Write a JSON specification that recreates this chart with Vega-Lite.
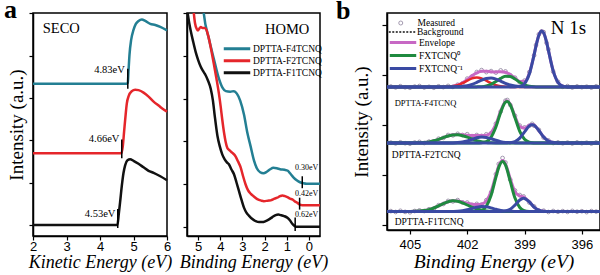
{
"$schema": "https://vega.github.io/schema/vega-lite/v6.json",
"background": "white",
"padding": {"left": 3, "top": -4, "right": 1, "bottom": 2},
"spacing": 6,
"resolve": {"scale": {"x": "independent", "y": "independent", "color": "independent", "shape": "independent", "strokeDash": "independent"}, "axis": {"x": "independent", "y": "independent"}, "legend": {"color": "independent", "shape": "independent", "strokeDash": "independent"}},
"datasets": {
"seco": [
{"s":"DPTTA-F4TCNQ","x":2,"y":153},{"s":"DPTTA-F4TCNQ","x":4.8,"y":153},{"s":"DPTTA-F4TCNQ","x":4.83,"y":154},{"s":"DPTTA-F4TCNQ","x":4.85,"y":165},{"s":"DPTTA-F4TCNQ","x":4.88,"y":182},{"s":"DPTTA-F4TCNQ","x":4.93,"y":197},{"s":"DPTTA-F4TCNQ","x":5.0,"y":207},{"s":"DPTTA-F4TCNQ","x":5.07,"y":213},{"s":"DPTTA-F4TCNQ","x":5.15,"y":216},{"s":"DPTTA-F4TCNQ","x":5.25,"y":217.5},{"s":"DPTTA-F4TCNQ","x":5.35,"y":216},{"s":"DPTTA-F4TCNQ","x":5.5,"y":213},{"s":"DPTTA-F4TCNQ","x":5.65,"y":212},{"s":"DPTTA-F4TCNQ","x":5.8,"y":210},{"s":"DPTTA-F4TCNQ","x":6,"y":206.5},
{"s":"DPTTA-F2TCNQ","x":2,"y":83},{"s":"DPTTA-F2TCNQ","x":4.64,"y":83},{"s":"DPTTA-F2TCNQ","x":4.68,"y":90},{"s":"DPTTA-F2TCNQ","x":4.72,"y":105},{"s":"DPTTA-F2TCNQ","x":4.76,"y":120},{"s":"DPTTA-F2TCNQ","x":4.8,"y":133},{"s":"DPTTA-F2TCNQ","x":4.86,"y":141},{"s":"DPTTA-F2TCNQ","x":4.95,"y":145.5},{"s":"DPTTA-F2TCNQ","x":5.05,"y":147},{"s":"DPTTA-F2TCNQ","x":5.15,"y":146.5},{"s":"DPTTA-F2TCNQ","x":5.3,"y":144},{"s":"DPTTA-F2TCNQ","x":5.45,"y":140},{"s":"DPTTA-F2TCNQ","x":5.6,"y":135},{"s":"DPTTA-F2TCNQ","x":5.75,"y":131},{"s":"DPTTA-F2TCNQ","x":5.9,"y":127},{"s":"DPTTA-F2TCNQ","x":6,"y":125},
{"s":"DPTTA-F1TCNQ","x":2,"y":11},{"s":"DPTTA-F1TCNQ","x":4.52,"y":11},{"s":"DPTTA-F1TCNQ","x":4.56,"y":22},{"s":"DPTTA-F1TCNQ","x":4.6,"y":34},{"s":"DPTTA-F1TCNQ","x":4.65,"y":50},{"s":"DPTTA-F1TCNQ","x":4.7,"y":63},{"s":"DPTTA-F1TCNQ","x":4.75,"y":71},{"s":"DPTTA-F1TCNQ","x":4.82,"y":76},{"s":"DPTTA-F1TCNQ","x":4.9,"y":77},{"s":"DPTTA-F1TCNQ","x":5.0,"y":75.5},{"s":"DPTTA-F1TCNQ","x":5.15,"y":72.5},{"s":"DPTTA-F1TCNQ","x":5.3,"y":69},{"s":"DPTTA-F1TCNQ","x":5.45,"y":65.5},{"s":"DPTTA-F1TCNQ","x":5.6,"y":63.5},{"s":"DPTTA-F1TCNQ","x":5.8,"y":60},{"s":"DPTTA-F1TCNQ","x":6,"y":56}
],
"secoMark": [{"x":4.83,"y":148,"y2":168},{"x":4.65,"y":78,"y2":97},{"x":4.53,"y":8,"y2":27}],
"secoLab": [{"x":4.74,"y":167,"t":"4.83eV"},{"x":4.58,"y":97,"t":"4.66eV"},{"x":4.46,"y":22,"t":"4.53eV"}],
"homo": [
{"s":"DPTTA-F4TCNQ","x":4.78,"y":232},{"s":"DPTTA-F4TCNQ","x":4.74,"y":223},{"s":"DPTTA-F4TCNQ","x":4.51,"y":198},{"s":"DPTTA-F4TCNQ","x":4.29,"y":178},{"s":"DPTTA-F4TCNQ","x":4.06,"y":158},{"s":"DPTTA-F4TCNQ","x":3.9,"y":149},{"s":"DPTTA-F4TCNQ","x":3.75,"y":145.5},{"s":"DPTTA-F4TCNQ","x":3.55,"y":145},{"s":"DPTTA-F4TCNQ","x":3.38,"y":145.5},{"s":"DPTTA-F4TCNQ","x":3.25,"y":143},{"s":"DPTTA-F4TCNQ","x":3.1,"y":136},{"s":"DPTTA-F4TCNQ","x":2.93,"y":122},{"s":"DPTTA-F4TCNQ","x":2.78,"y":104},{"s":"DPTTA-F4TCNQ","x":2.63,"y":90},{"s":"DPTTA-F4TCNQ","x":2.48,"y":76},{"s":"DPTTA-F4TCNQ","x":2.35,"y":68},{"s":"DPTTA-F4TCNQ","x":2.2,"y":64},{"s":"DPTTA-F4TCNQ","x":2.05,"y":63},{"s":"DPTTA-F4TCNQ","x":1.9,"y":64.5},{"s":"DPTTA-F4TCNQ","x":1.75,"y":67},{"s":"DPTTA-F4TCNQ","x":1.6,"y":68.5},{"s":"DPTTA-F4TCNQ","x":1.45,"y":68},{"s":"DPTTA-F4TCNQ","x":1.3,"y":67},{"s":"DPTTA-F4TCNQ","x":1.1,"y":66.5},{"s":"DPTTA-F4TCNQ","x":0.95,"y":65.5},{"s":"DPTTA-F4TCNQ","x":0.85,"y":63},{"s":"DPTTA-F4TCNQ","x":0.7,"y":59},{"s":"DPTTA-F4TCNQ","x":0.55,"y":56},{"s":"DPTTA-F4TCNQ","x":0.4,"y":54},{"s":"DPTTA-F4TCNQ","x":0.25,"y":53},{"s":"DPTTA-F4TCNQ","x":0.1,"y":52.5},{"s":"DPTTA-F4TCNQ","x":-0.5,"y":52.5},
{"s":"DPTTA-F2TCNQ","x":5.22,"y":230},{"s":"DPTTA-F2TCNQ","x":5.14,"y":214},{"s":"DPTTA-F2TCNQ","x":5.06,"y":208},{"s":"DPTTA-F2TCNQ","x":5.0,"y":206.5},{"s":"DPTTA-F2TCNQ","x":4.94,"y":208.5},{"s":"DPTTA-F2TCNQ","x":4.88,"y":210},{"s":"DPTTA-F2TCNQ","x":4.8,"y":209},{"s":"DPTTA-F2TCNQ","x":4.7,"y":209},{"s":"DPTTA-F2TCNQ","x":4.62,"y":207},{"s":"DPTTA-F2TCNQ","x":4.53,"y":200},{"s":"DPTTA-F2TCNQ","x":4.4,"y":186},{"s":"DPTTA-F2TCNQ","x":4.29,"y":173},{"s":"DPTTA-F2TCNQ","x":4.17,"y":158},{"s":"DPTTA-F2TCNQ","x":4.06,"y":143},{"s":"DPTTA-F2TCNQ","x":3.98,"y":130},{"s":"DPTTA-F2TCNQ","x":3.91,"y":117},{"s":"DPTTA-F2TCNQ","x":3.83,"y":104},{"s":"DPTTA-F2TCNQ","x":3.76,"y":95},{"s":"DPTTA-F2TCNQ","x":3.68,"y":88.5},{"s":"DPTTA-F2TCNQ","x":3.58,"y":86},{"s":"DPTTA-F2TCNQ","x":3.45,"y":83.5},{"s":"DPTTA-F2TCNQ","x":3.31,"y":80},{"s":"DPTTA-F2TCNQ","x":3.2,"y":75},{"s":"DPTTA-F2TCNQ","x":3.08,"y":69},{"s":"DPTTA-F2TCNQ","x":2.97,"y":60},{"s":"DPTTA-F2TCNQ","x":2.86,"y":52},{"s":"DPTTA-F2TCNQ","x":2.75,"y":46},{"s":"DPTTA-F2TCNQ","x":2.63,"y":42.5},{"s":"DPTTA-F2TCNQ","x":2.5,"y":40},{"s":"DPTTA-F2TCNQ","x":2.33,"y":37},{"s":"DPTTA-F2TCNQ","x":2.15,"y":35.5},{"s":"DPTTA-F2TCNQ","x":2.03,"y":35},{"s":"DPTTA-F2TCNQ","x":1.85,"y":35.5},{"s":"DPTTA-F2TCNQ","x":1.73,"y":35.8},{"s":"DPTTA-F2TCNQ","x":1.55,"y":37.5},{"s":"DPTTA-F2TCNQ","x":1.43,"y":38.5},{"s":"DPTTA-F2TCNQ","x":1.3,"y":40},{"s":"DPTTA-F2TCNQ","x":1.2,"y":40.7},{"s":"DPTTA-F2TCNQ","x":1.08,"y":40},{"s":"DPTTA-F2TCNQ","x":0.97,"y":39},{"s":"DPTTA-F2TCNQ","x":0.85,"y":37.5},{"s":"DPTTA-F2TCNQ","x":0.75,"y":36.7},{"s":"DPTTA-F2TCNQ","x":0.62,"y":34.5},{"s":"DPTTA-F2TCNQ","x":0.52,"y":33.3},{"s":"DPTTA-F2TCNQ","x":0.42,"y":31.5},{"s":"DPTTA-F2TCNQ","x":0.3,"y":31},{"s":"DPTTA-F2TCNQ","x":-0.5,"y":31},
{"s":"DPTTA-F1TCNQ","x":5.49,"y":227},{"s":"DPTTA-F1TCNQ","x":5.4,"y":214},{"s":"DPTTA-F1TCNQ","x":5.34,"y":207},{"s":"DPTTA-F1TCNQ","x":5.22,"y":195},{"s":"DPTTA-F1TCNQ","x":5.11,"y":185},{"s":"DPTTA-F1TCNQ","x":5.0,"y":177},{"s":"DPTTA-F1TCNQ","x":4.88,"y":170},{"s":"DPTTA-F1TCNQ","x":4.77,"y":165.5},{"s":"DPTTA-F1TCNQ","x":4.66,"y":161.5},{"s":"DPTTA-F1TCNQ","x":4.55,"y":156},{"s":"DPTTA-F1TCNQ","x":4.43,"y":148},{"s":"DPTTA-F1TCNQ","x":4.33,"y":136},{"s":"DPTTA-F1TCNQ","x":4.25,"y":121},{"s":"DPTTA-F1TCNQ","x":4.13,"y":101},{"s":"DPTTA-F1TCNQ","x":4.02,"y":90},{"s":"DPTTA-F1TCNQ","x":3.91,"y":82},{"s":"DPTTA-F1TCNQ","x":3.8,"y":77},{"s":"DPTTA-F1TCNQ","x":3.7,"y":74},{"s":"DPTTA-F1TCNQ","x":3.61,"y":72},{"s":"DPTTA-F1TCNQ","x":3.5,"y":67},{"s":"DPTTA-F1TCNQ","x":3.38,"y":62},{"s":"DPTTA-F1TCNQ","x":3.27,"y":54},{"s":"DPTTA-F1TCNQ","x":3.16,"y":45.5},{"s":"DPTTA-F1TCNQ","x":3.05,"y":37},{"s":"DPTTA-F1TCNQ","x":2.93,"y":28.5},{"s":"DPTTA-F1TCNQ","x":2.82,"y":23.5},{"s":"DPTTA-F1TCNQ","x":2.71,"y":20.5},{"s":"DPTTA-F1TCNQ","x":2.55,"y":17},{"s":"DPTTA-F1TCNQ","x":2.4,"y":15},{"s":"DPTTA-F1TCNQ","x":2.25,"y":14},{"s":"DPTTA-F1TCNQ","x":2.1,"y":14},{"s":"DPTTA-F1TCNQ","x":1.95,"y":15},{"s":"DPTTA-F1TCNQ","x":1.8,"y":16.7},{"s":"DPTTA-F1TCNQ","x":1.65,"y":19},{"s":"DPTTA-F1TCNQ","x":1.5,"y":21},{"s":"DPTTA-F1TCNQ","x":1.38,"y":21.5},{"s":"DPTTA-F1TCNQ","x":1.28,"y":21},{"s":"DPTTA-F1TCNQ","x":1.12,"y":20},{"s":"DPTTA-F1TCNQ","x":0.97,"y":18.3},{"s":"DPTTA-F1TCNQ","x":0.85,"y":15.5},{"s":"DPTTA-F1TCNQ","x":0.75,"y":12.3},{"s":"DPTTA-F1TCNQ","x":0.67,"y":10.5},{"s":"DPTTA-F1TCNQ","x":0.6,"y":9.3},{"s":"DPTTA-F1TCNQ","x":-0.5,"y":9.3}
],
"homoMark": [{"x":0.30,"y":48,"y2":60},{"x":0.42,"y":26.5,"y2":38.5},{"x":0.62,"y":5,"y2":18.5}],
"homoLab": [{"x":0.1,"y":68.3,"t":"0.30eV"},{"x":0.1,"y":42.3,"t":"0.42eV"},{"x":0.1,"y":20.7,"t":"0.62eV"}],
"n1s": [
{"s":"F4","x":406.2,"bg":143,"env":143,"r":143,"b1":143,"g":143,"b2":143},
{"s":"F4","x":404,"bg":143,"env":143,"r":143,"b1":143,"g":143,"b2":143},
{"s":"F4","x":403.5,"bg":143,"env":143,"r":143,"b1":143,"g":143,"b2":143},
{"s":"F4","x":403.25,"bg":143,"env":143.1,"r":143.1,"b1":143,"g":143,"b2":143},
{"s":"F4","x":403,"bg":143,"env":143.2,"r":143.2,"b1":143,"g":143,"b2":143},
{"s":"F4","x":402.75,"bg":143,"env":143.8,"r":143.7,"b1":143.1,"g":143,"b2":143},
{"s":"F4","x":402.5,"bg":143,"env":145,"r":144.8,"b1":143.2,"g":143,"b2":143},
{"s":"F4","x":402.25,"bg":143,"env":147.2,"r":146.8,"b1":143.5,"g":143,"b2":143},
{"s":"F4","x":402,"bg":143,"env":150.5,"r":149.3,"b1":144.2,"g":143,"b2":143},
{"s":"F4","x":401.75,"bg":143,"env":154.2,"r":151.6,"b1":145.6,"g":143,"b2":143},
{"s":"F4","x":401.5,"bg":143,"env":157.1,"r":152.5,"b1":147.6,"g":143.1,"b2":143},
{"s":"F4","x":401.25,"bg":143,"env":158.7,"r":151.6,"b1":149.8,"g":143.3,"b2":143},
{"s":"F4","x":401,"bg":143,"env":158.8,"r":149.3,"b1":151.5,"g":144,"b2":143},
{"s":"F4","x":400.75,"bg":143,"env":158.3,"r":146.8,"b1":152,"g":145.6,"b2":143},
{"s":"F4","x":400.5,"bg":143,"env":158.1,"r":144.8,"b1":150.9,"g":148.4,"b2":143},
{"s":"F4","x":400.25,"bg":143,"env":158.2,"r":143.7,"b1":148.9,"g":151.6,"b2":143},
{"s":"F4","x":400,"bg":143,"env":157.7,"r":143.2,"b1":146.7,"g":153.8,"b2":143},
{"s":"F4","x":399.75,"bg":143,"env":155.5,"r":143.1,"b1":145,"g":153.5,"b2":143},
{"s":"F4","x":399.5,"bg":143,"env":151.9,"r":143,"b1":143.9,"g":151,"b2":143.1},
{"s":"F4","x":399.25,"bg":143,"env":148.6,"r":143,"b1":143.3,"g":147.7,"b2":143.6},
{"s":"F4","x":399,"bg":143,"env":148.7,"r":143,"b1":143.1,"g":145.2,"b2":146.4},
{"s":"F4","x":398.75,"bg":143,"env":156.8,"r":143,"b1":143,"g":143.8,"b2":156},
{"s":"F4","x":398.5,"bg":143,"env":175.4,"r":143,"b1":143,"g":143.2,"b2":175.2},
{"s":"F4","x":398.4,"bg":143,"env":184.1,"r":143,"b1":143,"g":143.1,"b2":184},
{"s":"F4","x":398.25,"bg":143,"env":194.9,"r":143,"b1":143,"g":143.1,"b2":194.8},
{"s":"F4","x":398.1,"bg":143,"env":199,"r":143,"b1":143,"g":143,"b2":199},
{"s":"F4","x":398,"bg":143,"env":197.1,"r":143,"b1":143,"g":143,"b2":197.1},
{"s":"F4","x":397.85,"bg":143,"env":188.1,"r":143,"b1":143,"g":143,"b2":188.1},
{"s":"F4","x":397.75,"bg":143,"env":179.6,"r":143,"b1":143,"g":143,"b2":179.6},
{"s":"F4","x":397.5,"bg":143,"env":159.1,"r":143,"b1":143,"g":143,"b2":159.1},
{"s":"F4","x":397.25,"bg":143,"env":147.6,"r":143,"b1":143,"g":143,"b2":147.6},
{"s":"F4","x":397,"bg":143,"env":143.9,"r":143,"b1":143,"g":143,"b2":143.9},
{"s":"F4","x":396.75,"bg":143,"env":143.1,"r":143,"b1":143,"g":143,"b2":143.1},
{"s":"F4","x":396.5,"bg":143,"env":143,"r":143,"b1":143,"g":143,"b2":143},
{"s":"F4","x":395.05,"bg":143,"env":143,"r":143,"b1":143,"g":143,"b2":143},
{"s":"F2","x":406.2,"bg":87,"env":87,"g2":87,"b1":87,"g":87,"b2":87},
{"s":"F2","x":405.5,"bg":87,"env":87,"g2":87,"b1":87,"g":87,"b2":87},
{"s":"F2","x":405,"bg":87,"env":87,"g2":87,"b1":87,"g":87,"b2":87},
{"s":"F2","x":404.75,"bg":87,"env":87.1,"g2":87.1,"b1":87,"g":87,"b2":87},
{"s":"F2","x":404.5,"bg":87,"env":87.2,"g2":87.2,"b1":87,"g":87,"b2":87},
{"s":"F2","x":404.25,"bg":87,"env":87.5,"g2":87.5,"b1":87,"g":87,"b2":87},
{"s":"F2","x":404,"bg":87,"env":88.1,"g2":88.1,"b1":87,"g":87,"b2":87},
{"s":"F2","x":403.75,"bg":87,"env":89.2,"g2":89.2,"b1":87,"g":87,"b2":87},
{"s":"F2","x":403.5,"bg":87,"env":90.6,"g2":90.6,"b1":87,"g":87,"b2":87},
{"s":"F2","x":403.25,"bg":87,"env":92.4,"g2":92.4,"b1":87,"g":87,"b2":87},
{"s":"F2","x":403,"bg":87,"env":94.1,"g2":94,"b1":87,"g":87,"b2":87},
{"s":"F2","x":402.75,"bg":87,"env":95.2,"g2":95.1,"b1":87.1,"g":87,"b2":87},
{"s":"F2","x":402.5,"bg":87,"env":95.6,"g2":95.2,"b1":87.4,"g":87,"b2":87},
{"s":"F2","x":402.25,"bg":87,"env":95.3,"g2":94.3,"b1":88,"g":87,"b2":87},
{"s":"F2","x":402,"bg":87,"env":94.8,"g2":92.8,"b1":89.1,"g":87,"b2":87},
{"s":"F2","x":401.75,"bg":87,"env":94.6,"g2":91,"b1":90.6,"g":87,"b2":87},
{"s":"F2","x":401.5,"bg":87,"env":94.6,"g2":89.4,"b1":92.2,"g":87,"b2":87},
{"s":"F2","x":401.25,"bg":87,"env":94.6,"g2":88.3,"b1":93,"g":87.3,"b2":87},
{"s":"F2","x":401,"bg":87,"env":94.8,"g2":87.6,"b1":92.6,"g":88.5,"b2":87},
{"s":"F2","x":400.75,"bg":87,"env":97.4,"g2":87.3,"b1":91.3,"g":92.9,"b2":87},
{"s":"F2","x":400.5,"bg":87,"env":105.8,"g2":87.1,"b1":89.7,"g":103,"b2":87},
{"s":"F2","x":400.25,"bg":87,"env":118.9,"g2":87,"b1":88.4,"g":117.6,"b2":87},
{"s":"F2","x":400,"bg":87,"env":128.5,"g2":87,"b1":87.6,"g":127.9,"b2":87},
{"s":"F2","x":399.9,"bg":87,"env":129,"g2":87,"b1":87.4,"g":128.6,"b2":87.1},
{"s":"F2","x":399.75,"bg":87,"env":125.8,"g2":87,"b1":87.2,"g":125.3,"b2":87.3},
{"s":"F2","x":399.5,"bg":87,"env":113.7,"g2":87,"b1":87.1,"g":112.2,"b2":88.5},
{"s":"F2","x":399.25,"bg":87,"env":103.5,"g2":87,"b1":87,"g":98.7,"b2":91.9},
{"s":"F2","x":399,"bg":87,"env":101.9,"g2":87,"b1":87,"g":90.8,"b2":98.1},
{"s":"F2","x":398.75,"bg":87,"env":104.9,"g2":87,"b1":87,"g":87.9,"b2":104.1},
{"s":"F2","x":398.6,"bg":87,"env":105.6,"g2":87,"b1":87,"g":87.3,"b2":105.3},
{"s":"F2","x":398.5,"bg":87,"env":104.9,"g2":87,"b1":87,"g":87.1,"b2":104.7},
{"s":"F2","x":398.25,"bg":87,"env":99.5,"g2":87,"b1":87,"g":87,"b2":99.5},
{"s":"F2","x":398,"bg":87,"env":92.9,"g2":87,"b1":87,"g":87,"b2":92.9},
{"s":"F2","x":397.75,"bg":87,"env":88.9,"g2":87,"b1":87,"g":87,"b2":88.9},
{"s":"F2","x":397.5,"bg":87,"env":87.4,"g2":87,"b1":87,"g":87,"b2":87.4},
{"s":"F2","x":397.25,"bg":87,"env":87.1,"g2":87,"b1":87,"g":87,"b2":87.1},
{"s":"F2","x":397,"bg":87,"env":87,"g2":87,"b1":87,"g":87,"b2":87},
{"s":"F2","x":395.05,"bg":87,"env":87,"g2":87,"b1":87,"g":87,"b2":87},
{"s":"F1","x":406.2,"bg":18.5,"env":18.5,"g2":18.5,"b1":18.5,"g":18.5,"b2":18.5},
{"s":"F1","x":405.5,"bg":18.5,"env":18.5,"g2":18.5,"b1":18.5,"g":18.5,"b2":18.5},
{"s":"F1","x":405,"bg":18.5,"env":18.6,"g2":18.6,"b1":18.5,"g":18.5,"b2":18.5},
{"s":"F1","x":404.75,"bg":18.5,"env":18.7,"g2":18.7,"b1":18.5,"g":18.5,"b2":18.5},
{"s":"F1","x":404.5,"bg":18.5,"env":18.9,"g2":18.9,"b1":18.5,"g":18.5,"b2":18.5},
{"s":"F1","x":404.25,"bg":18.5,"env":19.4,"g2":19.4,"b1":18.5,"g":18.5,"b2":18.5},
{"s":"F1","x":404,"bg":18.5,"env":20.4,"g2":20.4,"b1":18.5,"g":18.5,"b2":18.5},
{"s":"F1","x":403.75,"bg":18.5,"env":22,"g2":22,"b1":18.5,"g":18.5,"b2":18.5},
{"s":"F1","x":403.5,"bg":18.5,"env":24.1,"g2":24.1,"b1":18.5,"g":18.5,"b2":18.5},
{"s":"F1","x":403.25,"bg":18.5,"env":26.4,"g2":26.4,"b1":18.5,"g":18.5,"b2":18.5},
{"s":"F1","x":403,"bg":18.5,"env":28.3,"g2":28.3,"b1":18.5,"g":18.5,"b2":18.5},
{"s":"F1","x":402.75,"bg":18.5,"env":29.3,"g2":29.2,"b1":18.6,"g":18.5,"b2":18.5},
{"s":"F1","x":402.5,"bg":18.5,"env":29.1,"g2":28.8,"b1":18.8,"g":18.5,"b2":18.5},
{"s":"F1","x":402.25,"bg":18.5,"env":28,"g2":27.2,"b1":19.3,"g":18.5,"b2":18.5},
{"s":"F1","x":402,"bg":18.5,"env":26.7,"g2":25,"b1":20.2,"g":18.5,"b2":18.5},
{"s":"F1","x":401.75,"bg":18.5,"env":25.8,"g2":22.8,"b1":21.5,"g":18.5,"b2":18.5},
{"s":"F1","x":401.5,"bg":18.5,"env":25.4,"g2":21,"b1":22.8,"g":18.7,"b2":18.5},
{"s":"F1","x":401.25,"bg":18.5,"env":25.9,"g2":19.8,"b1":23.5,"g":19.6,"b2":18.5},
{"s":"F1","x":401,"bg":18.5,"env":29,"g2":19.1,"b1":23.2,"g":23.7,"b2":18.5},
{"s":"F1","x":400.75,"bg":18.5,"env":38.5,"g2":18.7,"b1":22.1,"g":34.7,"b2":18.5},
{"s":"F1","x":400.5,"bg":18.5,"env":54.9,"g2":18.6,"b1":20.7,"g":52.6,"b2":18.5},
{"s":"F1","x":400.35,"bg":18.5,"env":64.2,"g2":18.5,"b1":20,"g":62.6,"b2":18.5},
{"s":"F1","x":400.15,"bg":18.5,"env":69.5,"g2":18.5,"b1":19.3,"g":68.5,"b2":18.7},
{"s":"F1","x":400,"bg":18.5,"env":66.1,"g2":18.5,"b1":19,"g":65.1,"b2":19},
{"s":"F1","x":399.75,"bg":18.5,"env":51.2,"g2":18.5,"b1":18.7,"g":48.8,"b2":20.7},
{"s":"F1","x":399.5,"bg":18.5,"env":38.3,"g2":18.5,"b1":18.5,"g":31.9,"b2":24.9},
{"s":"F1","x":399.25,"bg":18.5,"env":34,"g2":18.5,"b1":18.5,"g":22.5,"b2":30},
{"s":"F1","x":399.05,"bg":18.5,"env":32.9,"g2":18.5,"b1":18.5,"g":19.6,"b2":31.8},
{"s":"F1","x":398.75,"bg":18.5,"env":28.2,"g2":18.5,"b1":18.5,"g":18.6,"b2":28.1},
{"s":"F1","x":398.5,"bg":18.5,"env":22.9,"g2":18.5,"b1":18.5,"g":18.5,"b2":22.9},
{"s":"F1","x":398.25,"bg":18.5,"env":19.8,"g2":18.5,"b1":18.5,"g":18.5,"b2":19.8},
{"s":"F1","x":398,"bg":18.5,"env":18.7,"g2":18.5,"b1":18.5,"g":18.5,"b2":18.7},
{"s":"F1","x":397.75,"bg":18.5,"env":18.5,"g2":18.5,"b1":18.5,"g":18.5,"b2":18.5},
{"s":"F1","x":395.05,"bg":18.5,"env":18.5,"g2":18.5,"b1":18.5,"g":18.5,"b2":18.5}
],
"n1sMeas": [
{"s":"F4","x":406,"y":143.5},{"s":"F4","x":405.75,"y":142.6},{"s":"F4","x":405.5,"y":143.8},{"s":"F4","x":405.25,"y":142.7},{"s":"F4","x":405,"y":142.2},{"s":"F4","x":404.75,"y":143.4},{"s":"F4","x":404.5,"y":144},{"s":"F4","x":404.25,"y":142.5},{"s":"F4","x":404,"y":143.2},{"s":"F4","x":403.75,"y":142.3},{"s":"F4","x":403.5,"y":143.7},{"s":"F4","x":403.25,"y":142.9},{"s":"F4","x":403,"y":144.1},{"s":"F4","x":402.75,"y":143.1},{"s":"F4","x":402.5,"y":145.3},{"s":"F4","x":402.25,"y":146.6},{"s":"F4","x":402,"y":151.4},{"s":"F4","x":401.75,"y":153.5},{"s":"F4","x":401.5,"y":158},{"s":"F4","x":401.25,"y":159.9},{"s":"F4","x":401,"y":157.9},{"s":"F4","x":400.75,"y":158.9},{"s":"F4","x":400.5,"y":157.4},{"s":"F4","x":400.25,"y":159.6},{"s":"F4","x":400,"y":158.6},{"s":"F4","x":399.75,"y":154.8},{"s":"F4","x":399.5,"y":152.3},{"s":"F4","x":399.25,"y":147.6},{"s":"F4","x":399,"y":149.4},{"s":"F4","x":398.75,"y":157.9},{"s":"F4","x":398.5,"y":174.6},{"s":"F4","x":398.4,"y":185},{"s":"F4","x":398.25,"y":195.7},{"s":"F4","x":398.1,"y":198.5},{"s":"F4","x":398,"y":197.9},{"s":"F4","x":397.85,"y":187.3},{"s":"F4","x":397.75,"y":180.5},{"s":"F4","x":397.5,"y":158.4},{"s":"F4","x":397.25,"y":148.3},{"s":"F4","x":397,"y":143.2},{"s":"F4","x":396.75,"y":143.9},{"s":"F4","x":396.5,"y":142.5},{"s":"F4","x":396.25,"y":143.6},{"s":"F4","x":396,"y":142.8},{"s":"F4","x":395.75,"y":143.3},{"s":"F4","x":395.5,"y":142.4},{"s":"F4","x":395.25,"y":143.7},
{"s":"F2","x":406,"y":87.4},{"s":"F2","x":405.75,"y":86.6},{"s":"F2","x":405.5,"y":87.7},{"s":"F2","x":405.25,"y":86.8},{"s":"F2","x":405,"y":86.3},{"s":"F2","x":404.75,"y":87.5},{"s":"F2","x":404.5,"y":88.1},{"s":"F2","x":404.25,"y":87},{"s":"F2","x":404,"y":88.4},{"s":"F2","x":403.75,"y":88.5},{"s":"F2","x":403.5,"y":91.3},{"s":"F2","x":403.25,"y":92.1},{"s":"F2","x":403,"y":95},{"s":"F2","x":402.75,"y":94.6},{"s":"F2","x":402.5,"y":96.2},{"s":"F2","x":402.25,"y":95},{"s":"F2","x":402,"y":95.8},{"s":"F2","x":401.75,"y":93.9},{"s":"F2","x":401.5,"y":95},{"s":"F2","x":401.25,"y":94.1},{"s":"F2","x":401,"y":95.7},{"s":"F2","x":400.75,"y":96.8},{"s":"F2","x":400.5,"y":106.3},{"s":"F2","x":400.25,"y":118.4},{"s":"F2","x":400,"y":129.3},{"s":"F2","x":399.9,"y":130},{"s":"F2","x":399.75,"y":125.1},{"s":"F2","x":399.5,"y":114.2},{"s":"F2","x":399.25,"y":104.4},{"s":"F2","x":399,"y":102.6},{"s":"F2","x":398.75,"y":104.2},{"s":"F2","x":398.6,"y":106.2},{"s":"F2","x":398.5,"y":104.3},{"s":"F2","x":398.25,"y":100.1},{"s":"F2","x":398,"y":92.4},{"s":"F2","x":397.75,"y":89.6},{"s":"F2","x":397.5,"y":87},{"s":"F2","x":397.25,"y":87.6},{"s":"F2","x":397,"y":86.7},{"s":"F2","x":396.75,"y":87.4},{"s":"F2","x":396.5,"y":86.5},{"s":"F2","x":396.25,"y":87.6},{"s":"F2","x":396,"y":86.8},{"s":"F2","x":395.75,"y":87.3},{"s":"F2","x":395.5,"y":86.4},{"s":"F2","x":395.25,"y":87.6},
{"s":"F1","x":406,"y":18.9},{"s":"F1","x":405.75,"y":18},{"s":"F1","x":405.5,"y":19.2},{"s":"F1","x":405.25,"y":18.1},{"s":"F1","x":405,"y":17.7},{"s":"F1","x":404.75,"y":19},{"s":"F1","x":404.5,"y":19.6},{"s":"F1","x":404.25,"y":19},{"s":"F1","x":404,"y":20.8},{"s":"F1","x":403.75,"y":21.2},{"s":"F1","x":403.5,"y":24.8},{"s":"F1","x":403.25,"y":26},{"s":"F1","x":403,"y":29.1},{"s":"F1","x":402.75,"y":28.6},{"s":"F1","x":402.5,"y":29.9},{"s":"F1","x":402.25,"y":27.6},{"s":"F1","x":402,"y":27.5},{"s":"F1","x":401.75,"y":25.1},{"s":"F1","x":401.5,"y":26.1},{"s":"F1","x":401.25,"y":25.4},{"s":"F1","x":401,"y":29.8},{"s":"F1","x":400.75,"y":37.8},{"s":"F1","x":400.5,"y":55.8},{"s":"F1","x":400.35,"y":66},{"s":"F1","x":400.15,"y":72},{"s":"F1","x":400,"y":67.5},{"s":"F1","x":399.75,"y":50.4},{"s":"F1","x":399.5,"y":39.5},{"s":"F1","x":399.25,"y":35},{"s":"F1","x":399.05,"y":33.6},{"s":"F1","x":398.75,"y":27.5},{"s":"F1","x":398.5,"y":23.6},{"s":"F1","x":398.25,"y":19.4},{"s":"F1","x":398,"y":19.3},{"s":"F1","x":397.75,"y":18},{"s":"F1","x":397.5,"y":19},{"s":"F1","x":397.25,"y":18.2},{"s":"F1","x":397,"y":18.9},{"s":"F1","x":396.75,"y":18.1},{"s":"F1","x":396.5,"y":19.1},{"s":"F1","x":396.25,"y":18.3},{"s":"F1","x":396,"y":18.8},{"s":"F1","x":395.75,"y":17.9},{"s":"F1","x":395.5,"y":18.9},{"s":"F1","x":395.25,"y":18.4}
]
},
"hconcat": [
{
"bounds": "flush",
"spacing": 20,
"resolve": {"scale": {"x": "independent", "y": "independent", "color": "independent"}, "axis": {"x": "independent", "y": "independent"}, "legend": {"color": "independent"}},
"hconcat": [
{
"width": 134, "height": 223,
"title": {"text": "a", "anchor": "start", "frame": "group", "font": "Liberation Serif", "fontSize": 26, "fontWeight": "bold", "color": "black", "dx": -29, "offset": -32, "baseline": "alphabetic"},
"layer": [
{"data": {"name": "seco"}, "mark": {"type": "line", "strokeWidth": 2.5, "interpolate": "monotone"},
 "encoding": {
  "x": {"field": "x", "type": "quantitative", "scale": {"domain": [2, 6], "nice": false, "zero": false},
   "axis": {"values": [2,3,4,5,6], "tickCount": 5, "format": "d", "labelOverlap": false, "labelFlush": false, "labelSeparation": 0, "tickSize": 4, "labelPadding": 0, "title": "Kinetic Energy (eV)", "titleFontStyle": "italic", "titleFontSize": 18, "titlePadding": 0}},
  "y": {"field": "y", "type": "quantitative", "scale": {"domain": [0, 224], "nice": false, "zero": false},
   "axis": {"values": [11,32.25,53.5,74.75,96,117.25,138.5,159.75,181,202.25,223.5], "labels": false, "tickSize": 4, "title": "Intensity (a.u.)", "titleFontSize": 19, "titlePadding": 2}},
  "color": {"field": "s", "type": "nominal", "scale": {"domain": ["DPTTA-F4TCNQ","DPTTA-F2TCNQ","DPTTA-F1TCNQ"], "range": ["#237f93","#e5262b","#111111"]}, "legend": null}
 }},
{"data": {"name": "secoMark"}, "mark": {"type": "rule", "color": "black", "strokeWidth": 1.5},
 "encoding": {"x": {"field": "x", "type": "quantitative"}, "y": {"field": "y", "type": "quantitative"}, "y2": {"field": "y2"}}},
{"data": {"name": "secoLab"}, "mark": {"type": "text", "align": "right", "baseline": "middle", "font": "Liberation Serif", "fontSize": 10.5, "color": "black"},
 "encoding": {"x": {"field": "x", "type": "quantitative"}, "y": {"field": "y", "type": "quantitative"}, "text": {"field": "t"}}},
{"data": {"values": [{"x": 2.29, "y": 208, "t": "SECO"}]}, "mark": {"type": "text", "align": "left", "baseline": "middle", "font": "Liberation Serif", "fontSize": 14.5, "color": "black"},
 "encoding": {"x": {"field": "x", "type": "quantitative"}, "y": {"field": "y", "type": "quantitative"}, "text": {"field": "t"}}}
]
},
{
"width": 133, "height": 223,
"layer": [
{"data": {"name": "homo"}, "mark": {"type": "line", "strokeWidth": 2.5, "interpolate": "monotone", "clip": true},
 "encoding": {
  "x": {"field": "x", "type": "quantitative", "scale": {"domain": [-0.5, 5.5], "reverse": true, "nice": false, "zero": false},
   "axis": {"values": [0,1,2,3,4,5], "tickCount": 6, "format": "d", "labelOverlap": false, "labelFlush": false, "labelSeparation": 0, "tickSize": 4, "labelPadding": 0, "title": "Binding Energy (eV)", "titleFontStyle": "italic", "titleFontSize": 18, "titlePadding": 0}},
  "y": {"field": "y", "type": "quantitative", "scale": {"domain": [0, 224], "nice": false, "zero": false},
   "axis": {"values": [9.5,31,52.4,73.8,95.2,116.6,138,159.4,180.8,202.2,223.6], "labels": false, "tickSize": 4, "title": null}},
  "color": {"field": "s", "type": "nominal", "scale": {"domain": ["DPTTA-F4TCNQ","DPTTA-F2TCNQ","DPTTA-F1TCNQ"], "range": ["#237f93","#e5262b","#111111"]},
   "legend": {"orient": "none", "legendX": 35, "legendY": 30, "title": null, "symbolType": "stroke", "symbolSize": 700, "symbolStrokeWidth": 3, "clipHeight": 11.6, "labelFont": "Liberation Serif", "labelFontSize": 9.5, "labelColor": "black", "padding": 0, "rowPadding": 0, "labelOffset": 1, "labelLimit": 200}}
 }},
{"data": {"name": "homoMark"}, "mark": {"type": "rule", "color": "black", "strokeWidth": 1.5},
 "encoding": {"x": {"field": "x", "type": "quantitative"}, "y": {"field": "y", "type": "quantitative"}, "y2": {"field": "y2"}}},
{"data": {"name": "homoLab"}, "mark": {"type": "text", "align": "center", "baseline": "middle", "font": "Liberation Serif", "fontSize": 8, "color": "black"},
 "encoding": {"x": {"field": "x", "type": "quantitative"}, "y": {"field": "y", "type": "quantitative"}, "text": {"field": "t"}}},
{"data": {"values": [{"x": 0.98, "y": 207, "t": "HOMO"}]}, "mark": {"type": "text", "align": "center", "baseline": "middle", "font": "Liberation Serif", "fontSize": 14.5, "color": "black"},
 "encoding": {"x": {"field": "x", "type": "quantitative"}, "y": {"field": "y", "type": "quantitative"}, "text": {"field": "t"}}}
]
}
]
},
{
"width": 213, "height": 217,
"title": {"text": "b", "anchor": "start", "frame": "group", "font": "Liberation Serif", "fontSize": 26, "fontWeight": "bold", "color": "black", "dx": -51, "offset": -32, "baseline": "alphabetic"},
"layer": [
{"data": {"name": "n1sMeas"}, "mark": {"type": "point", "filled": false, "size": 14, "strokeWidth": 0.8, "color": "#8d819c", "opacity": 1},
 "encoding": {
  "x": {"field": "x", "type": "quantitative", "scale": {"domain": [395.05, 406.2], "reverse": true, "nice": false, "zero": false},
   "axis": {"values": [396,397.5,399,400.5,402,403.5,405], "format": "d", "labelExpr": "datum.value % 3 === 0 ? datum.label : ''", "labelOverlap": false, "labelFlush": false, "tickSize": 4, "labelPadding": 4, "title": "Binding Energy (eV)", "titleFontStyle": "italic", "titleFontSize": 19.5, "titlePadding": 1}},
  "y": {"field": "y", "type": "quantitative", "scale": {"domain": [0, 217], "nice": false, "zero": false},
   "axis": {"values": [5,30,55,80,105,130,155,180,205], "labels": false, "tickSize": 5, "title": "Intensity (a.u.)", "titleFontSize": 19, "titlePadding": 10}},
  "shape": {"datum": "Measured", "type": "nominal", "scale": {"domain": ["Measured"], "range": ["circle"]},
   "legend": {"orient": "none", "legendX": 9, "legendY": 5, "title": null, "symbolSize": 16, "symbolStrokeWidth": 0.8, "symbolStrokeColor": "#8d819c", "symbolFillColor": "transparent", "clipHeight": 10, "labelFont": "Liberation Serif", "labelFontSize": 9.5, "labelColor": "black", "padding": 0, "labelOffset": 12, "labelLimit": 200}}
 }},
{"data": {"name": "n1s"}, "transform": [{"fold": ["bg","env","r","g2","g","b1","b2"], "as": ["k","y"]}, {"filter": {"field": "k", "oneOf": ["bg"]}}],
 "mark": {"type": "line", "strokeWidth": 1.5, "color": "#111111"},
 "encoding": {"x": {"field": "x", "type": "quantitative"}, "y": {"field": "y", "type": "quantitative"}, "detail": {"field": "s"},
  "strokeDash": {"datum": "Background", "type": "nominal", "scale": {"domain": ["Background"], "range": [[2, 1.5]]},
   "legend": {"orient": "none", "legendX": 1, "legendY": 13.5, "title": null, "symbolType": "stroke", "symbolSize": 700, "symbolStrokeWidth": 1.5, "symbolStrokeColor": "#111111", "clipHeight": 11, "labelFont": "Liberation Serif", "labelFontSize": 9.5, "labelColor": "black", "padding": 0, "labelOffset": 1, "labelLimit": 200}}
 }},
{"data": {"name": "n1s"}, "transform": [{"fold": ["bg","env","r","g2","g","b1","b2"], "as": ["k","y"]}, {"filter": {"field": "k", "oneOf": ["env"]}}],
 "mark": {"type": "line", "strokeWidth": 3, "interpolate": "monotone"},
 "encoding": {"x": {"field": "x", "type": "quantitative"}, "y": {"field": "y", "type": "quantitative"}, "detail": {"field": "s"},
  "color": {"field": "k", "type": "nominal",
   "scale": {"domain": ["env","g","b1","r","g2","b2"], "range": ["#c768c4","#1f8a3f","#3a4aa3","#e5262b","#1f8a3f","#3a4aa3"]},
   "legend": {"orient": "none", "legendX": 1, "legendY": 23, "title": null, "values": ["env","g","b1"],
    "labelExpr": "datum.value === 'env' ? 'Envelope' : datum.value === 'g' ? 'FXTCNQ⁰' : 'FXTCNQ⁻¹'",
    "symbolType": "stroke", "symbolSize": 700, "symbolStrokeWidth": 3, "clipHeight": 13, "labelFont": "Liberation Serif", "labelFontSize": 9.5, "labelColor": "black", "padding": 0, "rowPadding": 0, "labelOffset": 1, "labelLimit": 200}}
 }},
{"data": {"name": "n1s"}, "transform": [{"fold": ["bg","env","r","g2","g","b1","b2"], "as": ["k","y"]}, {"filter": {"field": "k", "oneOf": ["r"]}}, {"filter": "isValid(datum.y)"}],
 "mark": {"type": "line", "strokeWidth": 2.5, "interpolate": "monotone"},
 "encoding": {"x": {"field": "x", "type": "quantitative"}, "y": {"field": "y", "type": "quantitative"}, "detail": {"field": "s"}, "color": {"field": "k", "type": "nominal"}}},
{"data": {"name": "n1s"}, "transform": [{"fold": ["bg","env","r","g2","g","b1","b2"], "as": ["k","y"]}, {"filter": {"field": "k", "oneOf": ["g","g2"]}}, {"filter": "isValid(datum.y)"}],
 "mark": {"type": "line", "strokeWidth": 3, "interpolate": "monotone"},
 "encoding": {"x": {"field": "x", "type": "quantitative"}, "y": {"field": "y", "type": "quantitative"}, "detail": {"field": "s"}, "color": {"field": "k", "type": "nominal"}}},
{"data": {"name": "n1s"}, "transform": [{"fold": ["bg","env","r","g2","g","b1","b2"], "as": ["k","y"]}, {"filter": {"field": "k", "oneOf": ["b1","b2"]}}],
 "mark": {"type": "line", "strokeWidth": 3, "interpolate": "monotone"},
 "encoding": {"x": {"field": "x", "type": "quantitative"}, "y": {"field": "y", "type": "quantitative"}, "detail": {"field": "s"}, "color": {"field": "k", "type": "nominal"}}},
{"data": {"values": [{"x": 405.8, "y": 127, "t": "DPTTA-F4TCNQ"}]}, "mark": {"type": "text", "align": "left", "baseline": "middle", "font": "Liberation Serif", "fontSize": 8.5, "color": "black"},
 "encoding": {"x": {"field": "x", "type": "quantitative"}, "y": {"field": "y", "type": "quantitative"}, "text": {"field": "t"}}},
{"data": {"values": [{"x": 405.95, "y": 75, "t": "DPTTA-F2TCNQ"}, {"x": 405.8, "y": 8.5, "t": "DPTTA-F1TCNQ"}]}, "mark": {"type": "text", "align": "left", "baseline": "middle", "font": "Liberation Serif", "fontSize": 9.5, "color": "black"},
 "encoding": {"x": {"field": "x", "type": "quantitative"}, "y": {"field": "y", "type": "quantitative"}, "text": {"field": "t"}}},
{"data": {"values": [{"x": 396.7, "y": 202, "t": "N 1s"}]}, "mark": {"type": "text", "align": "center", "baseline": "middle", "font": "Liberation Serif", "fontSize": 19, "color": "black"},
 "encoding": {"x": {"field": "x", "type": "quantitative"}, "y": {"field": "y", "type": "quantitative"}, "text": {"field": "t"}}}
]
}
],
"config": {
 "view": {"stroke": "black", "strokeWidth": 1.5},
 "axis": {"domainColor": "black", "domainWidth": 1.5, "tickColor": "black", "tickWidth": 1.2, "grid": false, "labelFont": "Liberation Sans", "labelFontSize": 13, "labelColor": "black", "titleFont": "Liberation Serif", "titleFontWeight": "normal", "titleColor": "black"},
 "font": "Liberation Serif"
}
}
